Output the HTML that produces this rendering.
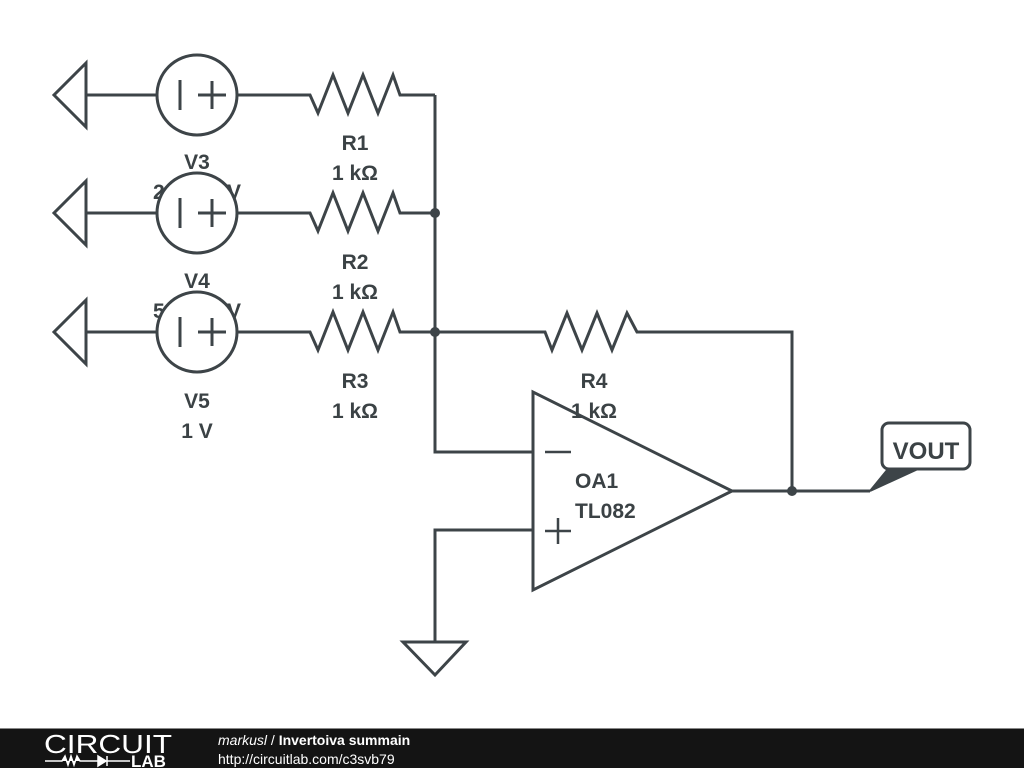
<!DOCTYPE html>
<html><head><style>
html,body{margin:0;padding:0;background:#fff;}
svg{display:block;}
text{font-family:"Liberation Sans","DejaVu Sans",sans-serif;font-weight:bold;fill:#3b4245;}
</style></head><body>
<svg width="1024" height="768" viewBox="0 0 1024 768" xmlns="http://www.w3.org/2000/svg">
<rect width="1024" height="768" fill="#fff"/>
<g font-size="21" text-anchor="middle">
<text x="197" y="169">V3</text>
<text x="197" y="199" textLength="88" lengthAdjust="spacing">2.5 V</text>
<text x="197" y="288">V4</text>
<text x="197" y="318" textLength="88" lengthAdjust="spacing">5.5 V</text>
<text x="197" y="408">V5</text>
<text x="197" y="438">1 V</text>
<text x="355" y="150">R1</text><text x="355" y="180">1 kΩ</text>
<text x="355" y="269">R2</text><text x="355" y="299">1 kΩ</text>
<text x="355" y="388">R3</text><text x="355" y="418">1 kΩ</text>
<text x="594" y="388">R4</text><text x="594" y="418">1 kΩ</text>
<text x="575" y="488" text-anchor="start">OA1</text>
<text x="575" y="518" text-anchor="start">TL082</text>
</g>
<g fill="none" stroke="#3d4448" stroke-width="3" stroke-linejoin="miter">
<path d="M86 63 L54 95 L86 127 Z M86 95 H157"/>
<path d="M86 181 L54 213 L86 245 Z M86 213 H157"/>
<path d="M86 300 L54 332 L86 364 Z M86 332 H157"/>
<circle cx="197" cy="95" r="40" fill="#fff"/>
<circle cx="197" cy="213" r="40" fill="#fff"/>
<circle cx="197" cy="332" r="40" fill="#fff"/>
<path d="M180 80 V110 M198 95 H226 M212 81 V109"/>
<path d="M180 198 V228 M198 213 H226 M212 199 V227"/>
<path d="M180 317 V347 M198 332 H226 M212 318 V346"/>
<path d="M237 95 H310 L318 113 L333 75 L348 113 L363 75 L378 113 L393 75 L400 95 H435"/>
<path d="M237 213 H310 L318 231 L333 193 L348 231 L363 193 L378 231 L393 193 L400 213 H435"/>
<path d="M237 332 H310 L318 350 L333 312 L348 350 L363 312 L378 350 L393 312 L400 332 H435"/>
<path d="M435 95 V452 H533"/>
<path d="M435 332 H545 L552 350 L567 313 L582 350 L597 313 L612 350 L627 313 L637 332 H792 V491"/>
<path d="M533 392 V590 L732 491 Z"/>
<path d="M732 491 H870"/>
<path d="M533 530 H435 V642"/>
<path d="M403 642 H466 L435 675 Z"/>
<path d="M545 452 H571 M545 531 H571 M558 518 V544" stroke-width="2.5"/>
<rect x="882" y="423" width="88" height="46" rx="7" ry="7" fill="#fff"/>
</g>
<path d="M870 491 L888 469 L918 469 Z" fill="#3d4448" stroke="#3d4448" stroke-width="2"/>
<text x="926" y="459" font-size="24" text-anchor="middle">VOUT</text>
<g fill="#3d4448">
<circle cx="435" cy="213" r="5"/><circle cx="435" cy="332" r="5"/><circle cx="792" cy="491" r="5"/>
</g>
<rect x="0" y="729" width="1024" height="39" fill="#141414"/>
<rect x="0" y="728" width="1024" height="1" fill="#888"/>
<text x="108" y="753" font-size="26" text-anchor="middle" style="font-weight:normal;fill:#fff" textLength="128" lengthAdjust="spacingAndGlyphs">CIRCUIT</text>
<path d="M45 761 H62 L65 756 L68 765 L71 756 L74 765 L77 756 L80 761 H98 M98 756 L106 761 L98 766 Z M107 756 V766 M107 761 H130" stroke="#fff" stroke-width="1.5" fill="#fff"/>
<text x="131" y="767" font-size="17" style="fill:#fff">LAB</text>
<text x="218" y="745" font-size="14" style="fill:#fff;font-weight:normal;font-style:italic">markusl <tspan style="font-style:normal">/</tspan> <tspan style="font-style:normal;font-weight:bold">Invertoiva summain</tspan></text>
<text x="218" y="764" font-size="14" style="fill:#fff;font-weight:normal">http://circuitlab.com/c3svb79</text>
</svg>
</body></html>
